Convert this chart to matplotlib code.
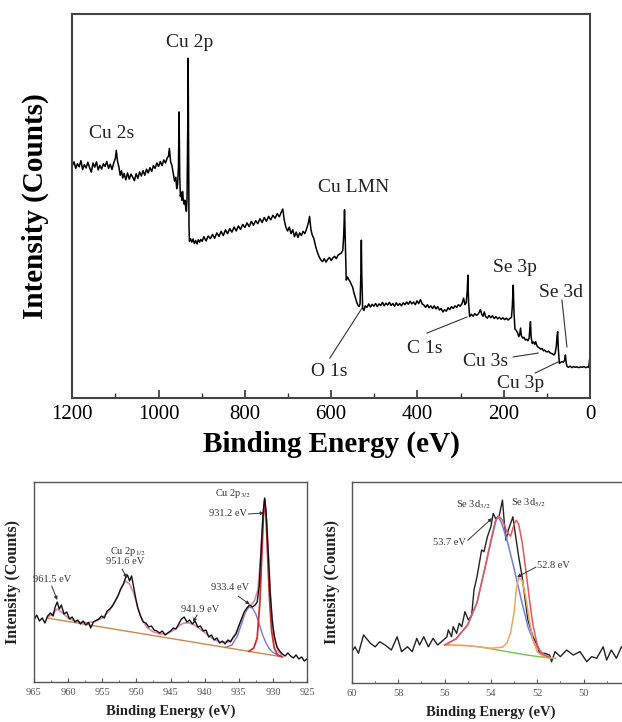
import matplotlib
matplotlib.use("Agg")
import matplotlib.pyplot as plt
from matplotlib.ticker import MultipleLocator

plt.rcParams['font.family'] = ['Liberation Serif', 'DejaVu Serif']
plt.rcParams['mathtext.fontset'] = 'stix'

# ---------------- Survey spectrum (BE eV, intensity a.u.) ----------------
survey_be = [1200, 1196, 1192, 1188, 1184, 1180, 1176, 1172, 1168, 1164, 1160, 1156, 1152, 1148, 1144,
             1140, 1136, 1132, 1128, 1124, 1120, 1116, 1112, 1108, 1104, 1100, 1098, 1095, 1092, 1089,
             1086, 1083, 1080, 1076, 1072, 1068, 1064, 1060, 1056, 1052, 1048, 1044, 1040, 1036, 1032,
             1028, 1024, 1020, 1016, 1012, 1008, 1004, 1000, 996, 992, 988, 984, 980, 977, 975, 972,
             969, 966, 963, 960, 958, 956, 954, 952.5, 951, 949.5, 948, 946, 944.5, 943, 941, 939,
             937, 935.5, 934, 932.5, 931.5, 930.5, 929.5, 928.5, 926, 923, 920, 917, 914, 911, 908,
             905, 902, 899, 895, 890, 885, 880, 875, 870, 865, 860, 855, 850, 845, 840, 835, 830, 825,
             820, 815, 810, 805, 800, 795, 790, 785, 780, 775, 770, 765, 760, 755, 750, 745, 740, 735,
             730, 725, 720, 716, 712, 709, 705, 701, 697, 693, 689, 685, 681, 677, 673, 669, 665, 661,
             657, 653, 650, 647, 644, 640, 636, 632, 628, 624, 620, 616, 612, 608, 604, 600, 596, 592,
             588, 584, 580, 576, 573, 571, 569, 567, 565, 562, 559, 556, 553, 550, 547, 544, 541, 538,
             535, 533, 531, 530, 529, 527, 524, 521, 517, 513, 509, 505, 501, 497, 493, 489, 485, 481,
             477, 473, 469, 465, 461, 457, 453, 449, 445, 441, 437, 433, 429, 425, 421, 417, 413, 409,
             405, 401, 397, 393, 389, 385, 381, 377, 373, 369, 365, 361, 357, 353, 349, 345, 341, 337,
             333, 329, 325, 321, 317, 313, 309, 305, 301, 297, 293, 290, 287, 284.5, 283, 281.5, 279,
             275, 271, 267, 263, 259, 256, 254, 251, 248, 245, 242, 238, 234, 230, 226, 222, 218, 214,
             210, 206, 202, 198, 194, 190, 186, 182, 180, 178, 176, 174, 171, 168, 165, 163, 161, 159,
             156, 153, 150, 147, 144, 141, 139.5, 138, 136.5, 134, 131, 128, 126, 123, 120, 117, 114,
             111, 108, 105, 102, 99, 96, 93, 90, 87, 84, 81, 78, 76.5, 75, 73.5, 71, 68, 65, 62, 59,
             57, 55, 53, 50, 46, 42, 38, 34, 30, 26, 22, 18, 14, 10, 6, 3, 1.5, 0]
survey_int = [60.5, 61.5, 59.8, 61.0, 60.2, 61.8, 59.5, 60.8, 59.9, 61.4, 60.0, 58.8, 61.2, 60.1, 61.5,
              59.4, 60.6, 59.6, 61.0, 60.3, 61.6, 59.8, 60.9, 59.5, 61.2, 62.5, 64.5, 61.5, 60.2, 58.0,
              59.2, 57.3, 58.5, 56.8, 58.6, 57.0, 58.3, 57.5, 56.6, 58.4, 57.2, 58.9, 57.8, 59.2, 58.0,
              59.6, 58.6, 60.0, 59.0, 60.5, 59.8, 61.2, 60.3, 61.6, 60.5, 62.0, 61.2, 62.5, 63.0, 65.0, 61.5,
              60.5, 58.5, 56.5, 57.5, 54.5, 55.5, 60.0, 74.5, 58.0, 52.5, 53.5, 51.5, 53.8, 52.0, 50.5, 51.5,
              49.5, 48.6, 52.0, 70.0, 88.5, 65.0, 45.0, 40.8, 41.5, 40.6, 41.4, 40.2, 41.0, 40.1, 41.2,
              40.6, 41.3, 40.8, 42.0, 40.9, 42.2, 41.5, 42.6, 41.6, 43.0, 42.1, 43.4, 42.3, 43.8, 42.8, 44.1, 43.2, 44.5,
              43.5, 44.8, 43.9, 45.2, 44.4, 45.6, 44.6, 46.0, 45.0, 46.2, 45.4, 46.7, 45.7, 47.0, 46.0, 47.3, 46.4, 47.6,
              46.8, 48.0, 47.2, 48.3, 49.2, 46.5, 44.5, 43.5, 44.5, 42.8, 43.8, 42.0, 43.2, 41.8, 43.0, 42.3, 43.4, 42.8,
              44.0, 45.5, 47.3, 44.0, 42.5, 41.5, 39.5, 38.0, 36.8, 36.0, 35.5, 36.3, 35.4, 36.1, 36.6, 35.8, 36.5, 36.9,
              36.3, 37.2, 37.5, 37.8, 38.5, 42.0, 49.0, 40.0, 30.7, 31.5, 30.8, 30.3, 29.5, 28.8, 27.3, 26.2, 25.0, 24.2,
              23.8, 24.5, 33.0, 41.1, 32.0, 23.4, 22.8, 24.0, 23.6, 24.5, 23.7, 24.4, 23.9, 24.6, 23.8, 24.5, 24.1, 24.9,
              24.0, 24.7, 24.2, 24.9, 24.1, 24.6, 23.9, 24.8, 24.1, 24.6, 24.0, 24.8, 24.3, 25.0, 24.4, 25.2, 24.5, 25.0,
              24.3, 25.3, 24.6, 25.6, 24.5, 24.2, 23.6, 24.3, 23.5, 24.0, 23.3, 24.0, 23.2, 23.8, 22.9, 23.3, 22.4, 23.0,
              22.6, 23.5, 23.0, 23.8, 23.3, 24.0, 23.6, 24.3, 23.9, 24.5, 26.0, 24.3, 24.8, 28.0, 32.0, 25.0, 21.2,
              21.8, 21.3, 22.0, 21.5, 21.9, 22.5, 23.0, 21.8, 21.3, 22.4, 21.2, 20.8, 21.5, 20.9, 21.4, 20.7, 21.2, 20.6,
              21.0, 20.5, 20.9, 20.4, 20.8, 20.3, 20.7, 21.0, 24.0, 29.4, 22.0, 18.0, 17.6, 17.0, 16.0, 16.5, 18.2, 16.2,
              15.6, 15.8, 15.1, 15.3, 14.9, 15.6, 18.0, 19.9, 16.0, 14.2, 14.6, 14.0, 14.7, 13.6, 13.2, 13.0, 12.7,
              12.9, 12.3, 12.5, 12.1, 12.0, 12.2, 11.8, 11.6, 11.5, 11.2, 11.6, 13.5, 16.0, 17.3, 13.0, 9.0, 9.3, 9.5, 9.3, 9.8,
              11.2, 9.0, 8.2, 8.0, 8.3, 7.9, 8.2, 8.0, 8.1, 7.9, 8.1, 8.0, 8.2, 7.9, 8.1, 8.0, 9.5, 10.8]

survey_ticks = [1200, 1000, 800, 600, 400, 200, 0]

# labels: (text, text_x, text_y, line_from_x, line_from_y, line_to_x, line_to_y) ; None = no leader line
survey_labels = [
    ("Cu 2p", 927, 92.7, None, None, None, None),
    ("Cu 2s", 1110, 69.0, None, None, None, None),
    ("Cu LMN", 549, 54.7, None, None, None, None),
    ("O 1s", 605, 6.8, 603, 10.4, 528.5, 23.4),
    ("C 1s", 382, 12.8, 378, 16.9, 285, 21.1),
    ("Se 3p", 174, 33.9, None, None, None, None),
    ("Se 3d", 67, 27.6, 65, 25.5, 53.5, 13.3),
    ("Cu 3s", 243, 9.6, 178, 10.7, 120, 11.7),
    ("Cu 3p", 162, 3.8, 127, 6.5, 74, 9.4),
]

# ---------------- Cu 2p high resolution ----------------
cu_be = [965.0, 964.6, 964.2, 963.8, 963.4, 963.0, 962.6, 962.2, 961.9, 961.6, 961.3, 961.0, 960.6, 960.2,
         959.8, 959.4, 959.0, 958.6, 958.2, 957.8, 957.4, 957.0, 956.7, 956.3, 955.9, 955.5, 955.1, 954.7,
         954.3, 953.9, 953.5, 953.1, 952.7, 952.3, 951.9, 951.6, 951.3, 951.0, 950.7, 950.4, 950.1, 949.8,
         949.4, 949.0, 948.6, 948.2, 947.8, 947.4, 947.0, 946.6, 946.2, 945.8, 945.4, 945.0, 944.6, 944.2,
         943.8, 943.4, 943.0, 942.6, 942.2, 941.8, 941.4, 941.0, 940.6, 940.2, 939.8, 939.4, 939.0, 938.6,
         938.2, 937.8, 937.4, 937.0, 936.6, 936.2, 935.8, 935.4, 935.0, 934.6, 934.2, 933.8, 933.4, 933.0,
         932.6, 932.3, 932.0, 931.7, 931.4, 931.2, 931.0, 930.7, 930.4, 930.1, 929.8, 929.4, 929.0, 928.6,
         928.2, 927.8, 927.4, 927.0, 926.6, 926.2, 925.8, 925.4, 925.0]
cu_int = [31.0, 33.5, 30.5, 32.0, 29.5, 33.0, 34.5, 33.0, 37.5, 40.0, 36.5, 38.5, 34.0, 35.0,
          31.5, 32.5, 30.0, 31.0, 29.0, 30.5, 28.5, 29.8, 27.0, 30.0, 30.8, 31.5, 33.0, 32.0,
          35.5, 36.5, 38.0, 40.5, 43.0, 46.5, 49.0, 52.0, 53.5, 50.5, 53.0, 47.5, 42.0, 37.0,
          33.0, 30.0, 29.5, 27.5, 28.0, 26.0, 25.5, 24.5, 25.5, 23.5, 24.5, 25.5, 27.0, 26.5,
          29.0, 31.5, 32.5, 30.0, 31.0, 29.0, 30.5, 27.5, 28.0, 25.5, 26.0, 22.5, 23.5, 21.0,
          22.0, 19.5, 20.5, 19.0, 21.0, 20.0, 22.5, 24.0, 28.0, 31.5, 35.0, 37.0, 38.5, 37.5,
          38.5, 40.0, 48.0, 68.0, 86.0, 92.0, 85.0, 66.0, 45.0, 31.0, 23.0, 17.5, 15.5, 14.0,
          13.0, 14.5, 13.0, 12.0, 13.5, 11.5, 12.5, 10.5, 11.5]

cu_bg_be = [963.1, 928.5]
cu_bg_int = [32.0, 12.5]

cu_main_be = [933.5, 932.8, 932.3, 931.9, 931.6, 931.4, 931.2, 931.0, 930.8, 930.5, 930.2, 929.8, 929.3, 928.8]
cu_main_int = [15.3, 17.0, 22.0, 40.0, 65.0, 82.0, 91.0, 83.0, 66.0, 42.0, 26.0, 17.0, 13.5, 12.7]

cu_sh_be = [937.0, 936.0, 935.2, 934.5, 934.0, 933.5, 933.0, 932.5, 932.0, 931.5, 931.0, 930.5, 930.0, 929.3, 928.6]
cu_sh_int = [17.3, 18.5, 23.0, 30.0, 35.0, 37.5, 37.0, 34.0, 29.0, 23.5, 19.5, 16.5, 14.8, 13.5, 12.6]

cu_env_be = [963.1, 962.3, 961.6, 960.8, 960.0, 959.0, 958.0, 957.0, 956.0, 955.0, 954.0, 953.0, 952.2,
             951.6, 951.0, 950.4, 949.8, 949.2, 948.5, 947.5, 946.5, 945.5, 944.5, 943.6, 943.0, 942.2,
             941.5, 940.5, 939.5, 938.5, 937.5, 936.5, 935.8, 935.0, 934.3, 933.7, 933.2, 932.7, 932.2,
             931.8, 931.5, 931.2, 930.9, 930.6, 930.3, 930.0, 929.6, 929.2, 928.7]
cu_env_int = [32.2, 34.0, 36.5, 34.5, 32.0, 30.5, 29.8, 29.7, 30.3, 32.0, 35.5, 41.0, 47.0,
              50.5, 49.0, 44.5, 37.5, 31.5, 27.5, 25.0, 24.0, 24.2, 26.0, 28.5, 29.5, 29.5,
              28.5, 26.0, 23.5, 21.0, 19.8, 20.0, 22.0, 27.5, 33.5, 37.5, 38.5, 40.5, 46.0,
              62.0, 80.0, 91.5, 80.0, 60.0, 40.0, 27.0, 19.5, 15.5, 13.2]

cu_ticks = [965, 960, 955, 950, 945, 940, 935, 930, 925]

# (text, x, y, arrow_from_x, arrow_from_y, arrow_to_x, arrow_to_y)
cu_labels = [
    (r"Cu 2p$_{1/2}$", 951.2, 65.5, None, None, None, None),
    ("951.6 eV", 951.7, 60.0, 952.1, 56.5, 951.4, 52.0),
    ("961.5 eV", 962.4, 51.0, 962.4, 48.0, 961.6, 41.0),
    ("941.9 eV", 940.6, 36.5, 941.1, 33.5, 941.7, 30.0),
    ("933.4 eV", 936.3, 47.0, 935.1, 43.0, 933.4, 38.8),
    (r"Cu 2p$_{3/2}$", 935.8, 94.0, None, None, None, None),
    ("931.2 eV", 936.6, 84.0, 933.6, 84.0, 931.3, 84.5),
]

# ---------------- Se 3d high resolution ----------------
se_be = [60.05, 59.87, 59.72, 59.5, 59.2, 59.0, 58.8, 58.57, 58.3, 58.05, 57.86, 57.6, 57.4, 57.2, 57.08,
         56.9, 56.7, 56.5, 56.3, 56.05, 55.9, 55.84, 55.7, 55.63, 55.48, 55.37, 55.26, 55.12, 54.97, 54.83,
         54.73, 54.6, 54.5, 54.4, 54.3, 54.15, 54.0, 53.9, 53.8, 53.65, 53.5, 53.43, 53.35, 53.25, 53.05,
         52.95, 52.8, 52.65, 52.5, 52.4, 52.18, 52.0, 51.9, 51.68, 51.46, 51.38, 51.23, 51.0, 50.73, 50.44,
         50.15, 49.86, 49.65, 49.43, 49.15, 49.0, 48.8, 48.58, 48.36, 48.1]
se_int = [14.8, 18.0, 14.8, 23.9, 19.7, 18.0, 20.5, 18.9, 16.4, 23.0, 15.6, 18.0, 15.6, 22.2, 18.9,
          23.0, 18.0, 22.2, 18.9, 21.4, 23.0, 26.4, 23.0, 28.0, 24.7, 29.7, 28.0, 35.5, 31.3, 33.8,
          46.3, 52.9, 59.5, 66.2, 65.3, 72.8, 77.8, 84.4, 81.9, 82.7, 91.0, 81.0, 71.0, 76.0, 82.7,
          74.5, 62.8, 52.9, 39.6, 31.3, 23.0, 18.9, 14.8, 14.8, 13.9, 10.6, 15.6, 13.1, 16.4, 13.9,
          15.6, 10.6, 13.1, 12.3, 18.0, 11.4, 16.4, 12.3, 18.0, 14.0]

se_bgflat_be = [56.0, 55.5, 55.0, 54.5]
se_bgflat_int = [18.9, 18.8, 18.6, 18.0]
se_bg_be = [54.5, 54.0, 53.5, 53.0, 52.5, 52.0, 51.5, 51.2]
se_bg_int = [18.0, 17.0, 16.0, 15.0, 14.0, 13.2, 12.5, 12.3]

se_a_be = [56.0, 55.5, 55.0, 54.6, 54.3, 54.0, 53.8, 53.7, 53.55, 53.3, 53.0, 52.7, 52.4, 52.1, 51.8, 51.5]
se_a_int = [18.9, 22.0, 29.0, 40.0, 55.0, 70.0, 80.0, 83.0, 80.0, 71.0, 57.0, 42.0, 28.0, 19.0, 15.0, 12.8]

se_b_be = [56.0, 55.0, 54.0, 53.5, 53.3, 53.15, 53.0, 52.9, 52.8, 52.65, 52.5, 52.35, 52.2, 52.0, 51.7, 51.3]
se_b_int = [18.9, 18.6, 17.3, 17.8, 20.0, 25.0, 35.0, 47.0, 52.5, 51.0, 43.0, 32.0, 22.0, 15.5, 13.0, 12.3]

se_env_be = [56.0, 55.5, 55.0, 54.6, 54.3, 54.0, 53.8, 53.65, 53.5, 53.3, 53.15, 53.0, 52.9, 52.8,
             52.65, 52.5, 52.35, 52.2, 52.0, 51.8, 51.5]
se_env_int = [18.9, 22.0, 29.0, 40.0, 55.0, 71.0, 81.0, 83.0, 81.0, 75.0, 73.0, 79.0, 81.0, 79.0,
              70.0, 57.0, 43.0, 30.0, 19.0, 14.5, 12.8]

se_ticks = [60, 58, 56, 54, 52, 50, 48]

se_labels = [
    (r"Se 3d$_{3/2}$", 54.77, 88.6, None, None, None, None),
    (r"Se 3d$_{5/2}$", 52.4, 89.6, None, None, None, None),
    ("53.7 eV", 55.77, 69.7, 55.0, 71.0, 53.95, 82.0),
    ("52.8 eV", 51.3, 58.7, 52.05, 57.7, 52.87, 52.7),
]

# ---------------- Figure ----------------
W, H = 622, 722
fig = plt.figure(figsize=(W / 100, H / 100), dpi=100)

def ax_px(l, t, r, b):
    return fig.add_axes([l / W, 1 - b / H, (r - l) / W, (b - t) / H])

# Top survey
ax = ax_px(72.3, 14, 590, 398)
ax.plot(survey_be, survey_int, color='black', lw=1.1)
ax.set_xlim(1200, 0)
ax.set_ylim(0, 100)
ax.set_xticks(survey_ticks)
ax.xaxis.set_minor_locator(MultipleLocator(100))
ax.set_yticks([])
ax.tick_params(axis='x', which='major', direction='in', length=6, width=1.2, labelsize=15,
               pad=5, color='#333')
ax.tick_params(axis='x', which='minor', direction='in', length=3.5, width=1.0, color='#333')
for s in ax.spines.values():
    s.set_linewidth(1.5)
    s.set_color('#444')
ax.set_xlabel("Binding Energy (eV)", fontsize=21, fontweight='bold', labelpad=5)
ax.set_ylabel("Intensity (Counts)", fontsize=21, fontweight='bold', labelpad=17)
for txt, tx, ty, fx, fy, px, py in survey_labels:
    ax.text(tx, ty, txt, fontsize=14, ha='center', va='center', color='#222')
    if fx is not None:
        ax.plot([fx, px], [fy, py], color='#333', lw=0.8)

def small_axes(a, ticks, minor):
    a.set_yticks([])
    a.set_xticks(ticks)
    a.xaxis.set_minor_locator(MultipleLocator(minor))
    a.tick_params(axis='x', which='major', direction='in', length=3, width=0.8, labelsize=7.5,
                  labelcolor='#555', color='#555', pad=4)
    a.tick_params(axis='x', which='minor', direction='in', length=1.8, width=0.6, color='#555')
    for s in a.spines.values():
        s.set_linewidth(1.0)
        s.set_color('#555')
    a.set_xlabel("Binding Energy (eV)", fontsize=10.5, fontweight='bold', labelpad=6, color='#222')
    a.set_ylabel("Intensity (Counts)", fontsize=11.5, fontweight='bold', labelpad=9, color='#222')

def put_labels(a, labels):
    for txt, tx, ty, fx, fy, px, py in labels:
        a.text(tx, ty, txt, fontsize=7.5, ha='center', va='center', color='#333')
        if fx is not None:
            a.annotate("", xy=(px, py), xytext=(fx, fy),
                       arrowprops=dict(arrowstyle='-|>', color='#333', lw=0.7,
                                       mutation_scale=5, shrinkA=0, shrinkB=0))

# Bottom-left Cu 2p
axl = ax_px(34, 482, 307, 682)
axl.plot(cu_bg_be, cu_bg_int, color='#c9894f', lw=1.0)
axl.plot(cu_sh_be, cu_sh_int, color='#7878d0', lw=1.0)
axl.plot(cu_env_be, cu_env_int, color='#d98aa6', lw=1.2)
axl.plot(cu_main_be, cu_main_int, color='#c83030', lw=1.3)
axl.plot(cu_be, cu_int, color='#111111', lw=1.0)
axl.set_xlim(965, 925)
axl.set_ylim(0, 100)
small_axes(axl, cu_ticks, 2.5)
put_labels(axl, cu_labels)

# Bottom-right Se 3d
axr = ax_px(352, 482, 629.8, 683)
axr.plot(se_be, se_int, color='#222222', lw=1.0)
axr.plot(se_bgflat_be, se_bgflat_int, color='#f0a25a', lw=1.0)
axr.plot(se_bg_be, se_bg_int, color='#78c05a', lw=1.0)
axr.plot(se_a_be, se_a_int, color='#6f80d8', lw=1.1)
axr.plot(se_b_be, se_b_int, color='#f3a35c', lw=1.1)
axr.plot(se_env_be, se_env_int, color='#e05a5a', lw=1.1)
axr.set_xlim(60, 48)
axr.set_ylim(0, 100)
small_axes(axr, se_ticks, 1)
put_labels(axr, se_labels)

fig.savefig("out.png", dpi=100)
